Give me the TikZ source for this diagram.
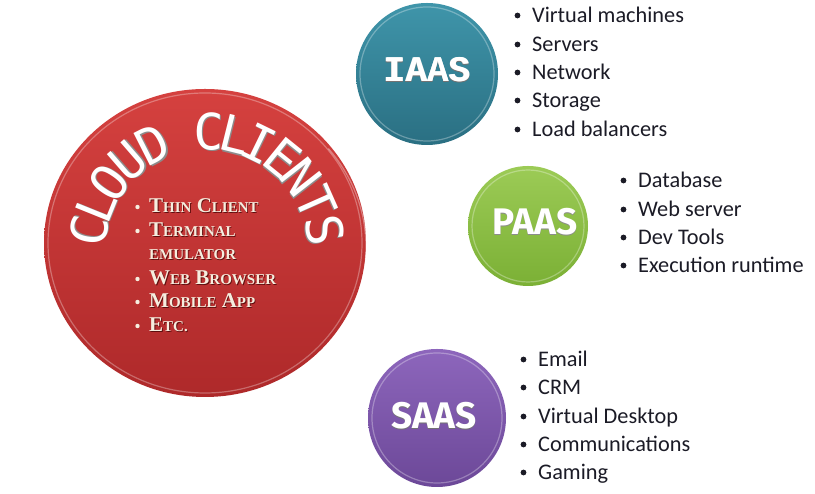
\documentclass[tikz,border=0pt]{standalone}
\usepackage{fontspec}
\usetikzlibrary{shapes.geometric,backgrounds,calc}
\newfontfamily\listfont{Carlito}
\newfontfamily\arcfont{DejaVu Sans Mono}
\newfontfamily\scfont{Liberation Serif}
\newfontfamily\iaasfont{Liberation Mono}
\newfontfamily\boxfont{Fira Sans}

\definecolor{redtop}{HTML}{D5413F}
\definecolor{redbot}{HTML}{AE292A}
\definecolor{tealtop}{HTML}{3F95AA}
\definecolor{tealbot}{HTML}{2A6F82}
\definecolor{greentop}{HTML}{9CCB56}
\definecolor{greenbot}{HTML}{7BB035}
\definecolor{purptop}{HTML}{8D66BC}
\definecolor{purpbot}{HTML}{6C4898}
\definecolor{linkblue}{HTML}{4A7EBE}
\definecolor{listink}{HTML}{1B1B26}
\definecolor{cream}{HTML}{F6EEDF}
\definecolor{darkred}{HTML}{5E0E0E}

% text with a small offset shadow behind it
\newcommand{\shadowed}[4]{\rlap{\kern#3\raisebox{-#4}{\color{#2}#1}}#1}
% heavier strokes by overprinting a slightly shifted copy
\newcommand{\heavy}[1]{\rlap{\kern0.7pt #1}#1}
% faked small capitals: first letter large, rest smaller capitals
\newcommand{\fsc}[2]{#1{\fontsize{15}{15}\selectfont #2}}

\tikzset{
  ball/.style={circle, inner sep=0pt, minimum size=#1},
  listitem/.style={anchor=base west, inner sep=0pt, text=listink,
    font=\listfont\fontsize{22.3}{22.3}\selectfont},
  listdot/.style={fill=listink, radius=2.9},
  redline/.style={anchor=base west, inner sep=0pt, text=cream,
    font=\scfont\bfseries\fontsize{21}{21}\selectfont},
  arcletter/.style={inner sep=0pt, text=white,
    font=\arcfont\fontsize{50}{50}\selectfont},
  link/.style={draw=linkblue, line width=1.3pt},
  rim/.style={draw=white, line width=1.2pt, opacity=0.3},
  softshadow/.style={fill=black, opacity=0.06}
}

\begin{document}
\begin{tikzpicture}[x=1pt,y=1pt]
\useasboundingbox (0,0) rectangle (815,494);
\fill[white] (0,0) rectangle (815,494);

% --- the four discs ---
\node[ellipse, inner sep=0pt, minimum width=322, minimum height=308,
      top color=redtop, bottom color=redbot] (cloud) at (205,251) {};
\node[ball=142, top color=tealtop, bottom color=tealbot] (iaas) at (427,420) {};
\node[ball=120, top color=greentop, bottom color=greenbot] (paas) at (528,268) {};
\node[ball=138, top color=purptop, bottom color=purpbot] (saas) at (437,76) {};

% bevel highlights just inside each rim
\draw[rim] (cloud.center) ellipse [x radius=157, y radius=150];
\draw[rim] (iaas.center) circle [radius=67];
\draw[rim] (paas.center) circle [radius=56];
\draw[rim] (saas.center) circle [radius=65];
\draw[white, line width=1.2pt, opacity=0.35] (cloud.center)
  ++(-40:161) arc [start angle=-40, end angle=40, x radius=161, y radius=154];

% shadows and connectors go underneath
\begin{scope}[on background layer]
  \foreach \k in {1,...,5} {
    \fill[softshadow] ([yshift=-1.2*\k]cloud.center) ellipse [x radius=161+0.4*\k, y radius=154+0.4*\k];
    \fill[softshadow] ([yshift=-1.2*\k]iaas.center) circle [radius=71+0.4*\k];
    \fill[softshadow] ([yshift=-1.2*\k]paas.center) circle [radius=60+0.4*\k];
    \fill[softshadow] ([yshift=-1.2*\k]saas.center) circle [radius=69+0.4*\k];
  }
  \draw[link] (cloud.center) -- (iaas.center);
  \draw[link] (cloud.center) -- (paas.center);
  \draw[link] (cloud.center) -- (saas.center);
\end{scope}

% --- disc titles ---
\node[text=white, font=\iaasfont\bfseries\fontsize{36}{36}\selectfont] (iaaslabel) at (427,424)
  {\shadowed{\heavy{IAAS}}{black!55}{0pt}{1.5pt}};
\node[text=white, font=\boxfont\bfseries\fontsize{37}{37}\selectfont] (paaslabel) at (535,272)
  {\shadowed{PAAS}{black!45}{0pt}{1.5pt}};
\node[text=white, font=\boxfont\bfseries\fontsize{37}{37}\selectfont] (saaslabel) at (434,78)
  {\shadowed{SAAS}{black!55}{0pt}{1.5pt}};

% --- CLOUD CLIENTS set along an arc ---
\coordinate (arc) at (207,243);
\foreach \ch/\ang [count=\i] in {C/170, L/158, O/145, U/131, D/117,
                                  C/89, L/76, I/64, E/51, N/38, T/24, S/10} {
  \node[arcletter, rotate=\ang-90] (letter\i) at ($(arc)+(\ang:119)$)
    {\shadowed{\ch}{black!45}{1pt}{1.2pt}};
}

% --- client list inside the red disc ---
\foreach \txt/\y [count=\i] in {
    {\fsc{T}{HIN} \fsc{C}{LIENT}}/281,
    {\fsc{T}{ERMINAL}}/257,
    {\fsc{W}{EB} \fsc{B}{ROWSER}}/209,
    {\fsc{M}{OBILE} \fsc{A}{PP}}/186,
    {\fsc{E}{TC.}}/162} {
  \node[redline] (client\i) at (149,\y) {\shadowed{\txt}{darkred}{0.8pt}{0.8pt}};
  \fill[cream] (137.5,\y+6) circle [radius=2.2];
}
\node[redline] (clientemu) at (149,234)
  {\shadowed{{\fontsize{15}{15}\selectfont EMULATOR}}{darkred}{0.8pt}{0.8pt}};

% --- IaaS items ---
\foreach \txt/\y [count=\i] in {Virtual machines/471, Servers/442, Network/414,
                                Storage/386, Load balancers/357} {
  \node[listitem] (ia\i) at (532,\y) {\txt};
  \fill[listdot] (517.5,\y+7.5) circle;
}
% --- PaaS items ---
\foreach \txt/\y [count=\i] in {Database/306, Web server/277, Dev Tools/249,
                                Execution runtime/221} {
  \node[listitem] (pa\i) at (638,\y) {\txt};
  \fill[listdot] (623.5,\y+7.5) circle;
}
% --- SaaS items ---
\foreach \txt/\y [count=\i] in {Email/127, CRM/99, Virtual Desktop/70,
                                Communications/42, Gaming/14} {
  \node[listitem] (sa\i) at (538,\y) {\txt};
  \fill[listdot] (523.5,\y+7.5) circle;
}
\end{tikzpicture}
\end{document}
